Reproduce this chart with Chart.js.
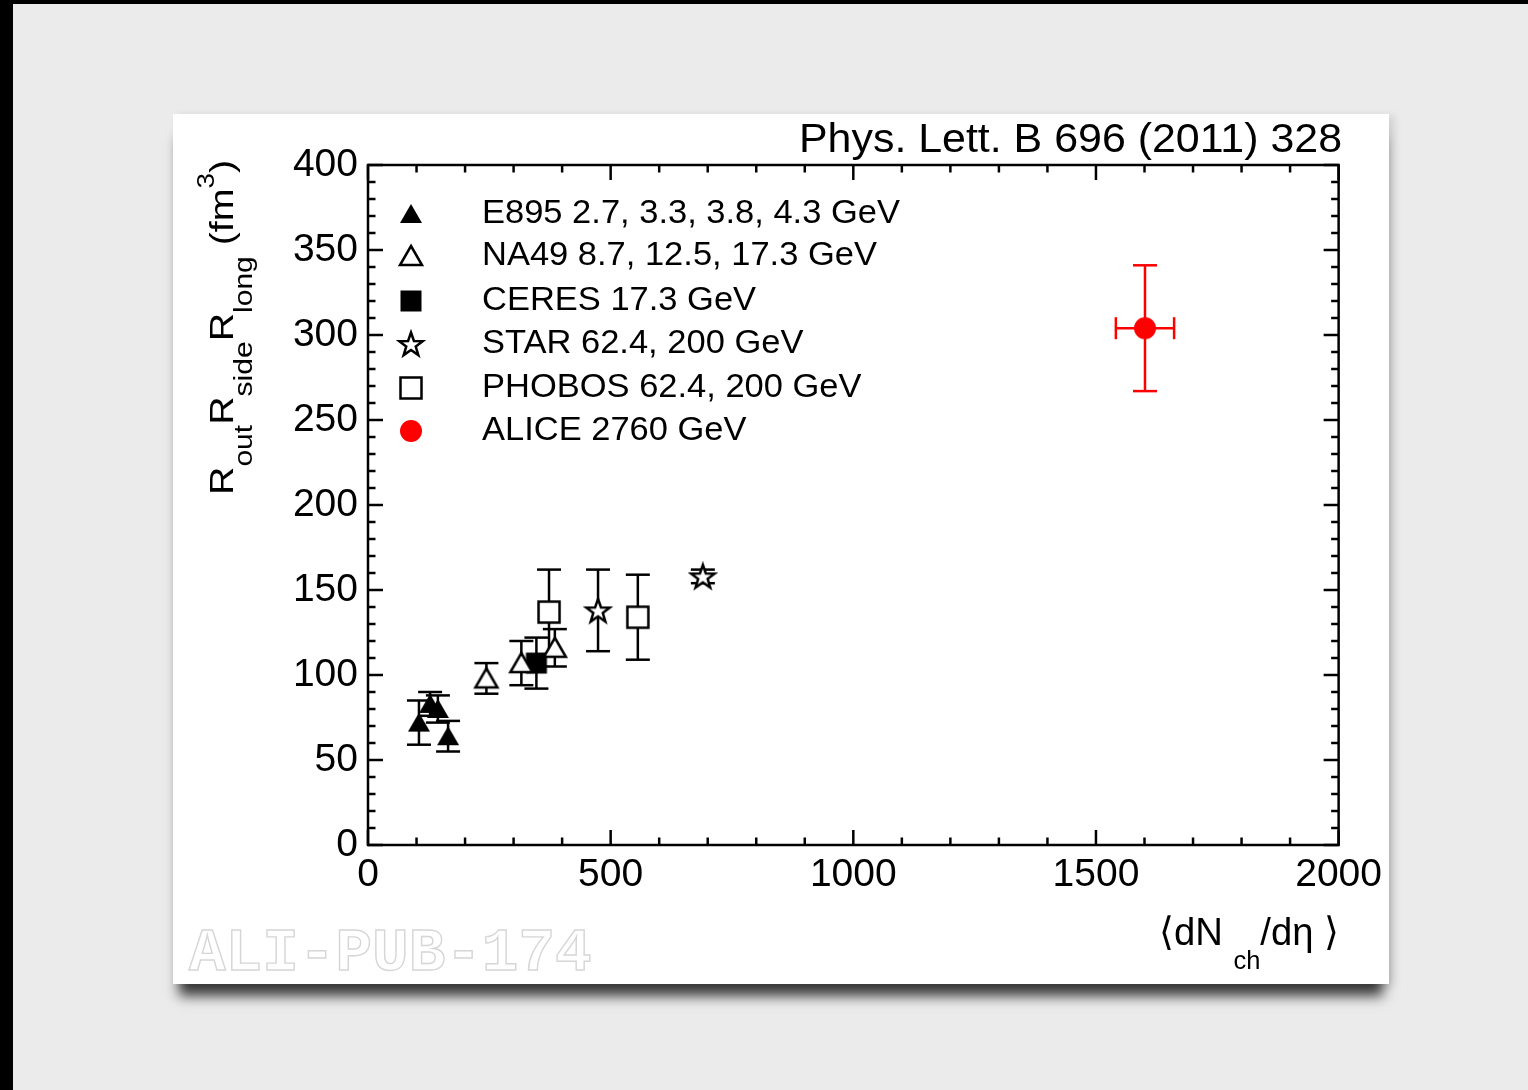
<!DOCTYPE html>
<html>
<head>
<meta charset="utf-8">
<script src="https://cdn.jsdelivr.net/npm/chart.js@4.4.1/dist/chart.umd.min.js"></script>
<style>
  html, body { margin: 0; padding: 0; background: #000; width: 1528px; height: 1090px; overflow: hidden; }
  #paper { position: absolute; left: 13px; top: 4px; width: 1515px; height: 1086px; background: #ebebeb; }
  #card { position: absolute; left: 160px; top: 110px; width: 1216px; height: 870px; background: #fff;
          box-shadow: 0 18px 12px -6px rgba(0,0,0,0.75), 5px 2px 8px rgba(0,0,0,0.12); }
  #card canvas { display: block; }
</style>
</head>
<body>
<div id="paper">
  <div id="card"><canvas id="hbtChart" width="1216" height="870"></canvas></div>
</div>
<script>
/***************************************************/
/********************** DATA ***********************/
/***************************************************/
// <dNch/deta> and Rout*Rside*Rlong (fm^3), errors
const e895X = [105, 128, 144, 165];
const e895Y = [72, 83, 80, 64];
const e895Err = [13, 7, 8, 9];

const na49X = [244, 316, 385];
const na49Y = [98, 107, 116];
const na49Err = [9, 13, 11];

const ceresX = [347];
const ceresY = [107];
const ceresErr = [15];

const starX = [474, 690];
const starY = [138, 158];
const starErr = [24, 4];

const phobosX = [373, 556];
const phobosY = [137, 134];
const phobosErr = [25, 25];

const aliceX = [1601];
const aliceY = [304];
const aliceErr = [37];
const aliceXErr = [60];

const xTicks = [0, 500, 1000, 1500, 2000];
const yTicks = [0, 50, 100, 150, 200, 250, 300, 350, 400];
const xMinorStep = 100;
const yMinorStep = 10;

const legendLabels = [
    'E895 2.7, 3.3, 3.8, 4.3 GeV',
    'NA49 8.7, 12.5, 17.3 GeV',
    'CERES 17.3 GeV',
    'STAR 62.4, 200 GeV',
    'PHOBOS 62.4, 200 GeV',
    'ALICE 2760 GeV'
];
const refText = 'Phys. Lett. B 696 (2011) 328';
const FONT = '"Liberation Sans", "DejaVu Sans", Arial, sans-serif';

/***************************************************/
/******************** MARKERS **********************/
/***************************************************/
function makeMarker(kind) {
    var c = document.createElement('canvas');
    c.width = 30; c.height = 30;
    var g = c.getContext('2d');
    g.lineWidth = 2.5;
    g.strokeStyle = '#000';
    g.fillStyle = '#000';
    g.beginPath();
    if (kind === 'triangle' || kind === 'openTriangle') {
        g.moveTo(15, 5); g.lineTo(26, 24); g.lineTo(4, 24); g.closePath();
    } else if (kind === 'square' || kind === 'openSquare') {
        g.rect(4.5, 4.5, 21, 21);
    } else if (kind === 'openStar') {
        for (var i = 0; i < 10; i++) {
            var r = i % 2 ? 5 : 12.5;
            var a = -Math.PI / 2 + i * Math.PI / 5;
            g.lineTo(15 + r * Math.cos(a), 16 + r * Math.sin(a));
        }
        g.closePath();
    } else if (kind === 'circle') {
        g.fillStyle = '#ff0000';
        g.arc(15, 15, 11, 0, 2 * Math.PI);
    }
    if (kind.indexOf('open') === 0) {
        g.fillStyle = '#fff';
        g.fill();
        g.stroke();
    } else {
        g.fill();
    }
    return c;
}

var markers = {
    triangle: makeMarker('triangle'),
    openTriangle: makeMarker('openTriangle'),
    square: makeMarker('square'),
    openStar: makeMarker('openStar'),
    openSquare: makeMarker('openSquare'),
    circle: makeMarker('circle')
};
var legendMarkers = ['triangle', 'openTriangle', 'square', 'openStar', 'openSquare', 'circle'];

function points(xs, ys) {
    return xs.map(function (x, i) { return { x: x, y: ys[i] }; });
}

var errorSets = [
    { x: e895X, y: e895Y, err: e895Err, color: '#000' },
    { x: na49X, y: na49Y, err: na49Err, color: '#000' },
    { x: ceresX, y: ceresY, err: ceresErr, color: '#000' },
    { x: starX, y: starY, err: starErr, color: '#000' },
    { x: phobosX, y: phobosY, err: phobosErr, color: '#000' },
    { x: aliceX, y: aliceY, err: aliceErr, xerr: aliceXErr, color: '#ff0000' }
];

/***************************************************/
/******************** PLUGINS **********************/
/***************************************************/
function line(ctx, x1, y1, x2, y2) {
    ctx.beginPath();
    ctx.moveTo(x1, y1);
    ctx.lineTo(x2, y2);
    ctx.stroke();
}

// text made of pieces (sub/superscripts); fit gives a target width or a stretch factor
function drawRuns(ctx, runs, x, y, fit, align) {
    var total = 0;
    runs.forEach(function (r) {
        ctx.font = r.size + 'px ' + FONT;
        total += ctx.measureText(r.text).width;
    });
    var k = 1;
    if (fit && fit.width) k = fit.width / total;
    if (fit && fit.stretch) k = fit.stretch;
    ctx.save();
    ctx.translate(align === 'right' ? x - total * k : x, y);
    ctx.scale(k, 1);
    var pos = 0;
    runs.forEach(function (r) {
        ctx.font = r.size + 'px ' + FONT;
        ctx.fillText(r.text, pos, r.dy || 0);
        pos += ctx.measureText(r.text).width;
    });
    ctx.restore();
}

const errorBarPlugin = {
    id: 'errorBars',
    beforeDatasetsDraw(chart) {
        var ctx = chart.ctx, xs = chart.scales.x, ys = chart.scales.y;
        ctx.save();
        ctx.lineWidth = 2.5;
        errorSets.forEach(function (set) {
            ctx.strokeStyle = set.color;
            set.x.forEach(function (xv, i) {
                var px = xs.getPixelForValue(xv);
                var py = ys.getPixelForValue(set.y[i]);
                var top = ys.getPixelForValue(set.y[i] + set.err[i]);
                var bot = ys.getPixelForValue(set.y[i] - set.err[i]);
                line(ctx, px, top, px, bot);
                line(ctx, px - 12, top, px + 12, top);
                line(ctx, px - 12, bot, px + 12, bot);
                if (set.xerr) {
                    var lft = xs.getPixelForValue(xv - set.xerr[i]);
                    var rgt = xs.getPixelForValue(xv + set.xerr[i]);
                    line(ctx, lft, py, rgt, py);
                    line(ctx, lft, py - 11, lft, py + 11);
                    line(ctx, rgt, py - 11, rgt, py + 11);
                }
            });
        });
        ctx.restore();
    }
};

const framePlugin = {
    id: 'frame',
    afterDatasetsDraw(chart) {
        var ctx = chart.ctx, a = chart.chartArea;
        var xs = chart.scales.x, ys = chart.scales.y;
        ctx.save();
        ctx.strokeStyle = '#000';
        ctx.lineWidth = 2.5;
        ctx.strokeRect(a.left, a.top, a.right - a.left, a.bottom - a.top);
        for (var v = xs.min; v <= xs.max; v += xMinorStep) {
            var px = xs.getPixelForValue(v);
            var len = xTicks.indexOf(v) >= 0 ? 15 : 7.5;
            line(ctx, px, a.bottom, px, a.bottom - len);
            line(ctx, px, a.top, px, a.top + len);
        }
        for (var w = ys.min; w <= ys.max; w += yMinorStep) {
            var py = ys.getPixelForValue(w);
            var l2 = yTicks.indexOf(w) >= 0 ? 15 : 7.5;
            line(ctx, a.left, py, a.left + l2, py);
            line(ctx, a.right, py, a.right - l2, py);
        }
        ctx.restore();
    }
};

const labelsPlugin = {
    id: 'labels',
    afterDraw(chart) {
        var ctx = chart.ctx;
        ctx.save();
        ctx.fillStyle = '#000';
        ctx.textBaseline = 'alphabetic';

        // reference on top right
        drawRuns(ctx, [{ text: refText, size: 41 }], 1169, 38, { width: 543 }, 'right');

        // legend inside the frame
        var baselines = [109, 151, 196, 239, 283, 326];
        legendLabels.forEach(function (lab, i) {
            var m = markers[legendMarkers[i]];
            ctx.drawImage(m, 238 - m.width / 2, baselines[i] - 9 - m.height / 2);
            drawRuns(ctx, [{ text: lab, size: 33 }], 309, baselines[i], { stretch: 1.045 });
        });

        // x axis title
        drawRuns(ctx, [
            { text: '\u27E8dN ', size: 39 },
            { text: 'ch', size: 26, dy: 24 },
            { text: '/d\u03B7 \u27E9', size: 39 }
        ], 1166, 831, { width: 180 }, 'right');

        // y axis title
        ctx.save();
        ctx.translate(60, 381);
        ctx.rotate(-Math.PI / 2);
        drawRuns(ctx, [
            { text: 'R', size: 34 },
            { text: 'out', size: 26, dy: 19 },
            { text: 'R', size: 34 },
            { text: 'side', size: 26, dy: 19 },
            { text: 'R', size: 34 },
            { text: 'long', size: 26, dy: 19 },
            { text: ' (fm', size: 34 },
            { text: '3', size: 24, dy: -19 },
            { text: ')', size: 34 }
        ], 0, 0, { width: 335 }, 'left');
        ctx.restore();

        // outlined watermark
        ctx.font = 'bold 61px "Liberation Mono", "Courier New", monospace';
        ctx.strokeStyle = '#d6d6d6';
        ctx.lineWidth = 1.4;
        ctx.strokeText('ALI-PUB-174', 16, 856);
        ctx.restore();
    }
};

/***************************************************/
/********************* CHART ***********************/
/***************************************************/
function drawHbtChart() {
    var canvas = document.getElementById('hbtChart').getContext('2d');
    var tickFont = { family: FONT, size: 39 };
    new Chart(canvas, {
        type: 'scatter',
        data: {
            datasets: [
                { label: legendLabels[0], data: points(e895X, e895Y), pointStyle: markers.triangle, pointRadius: 12 },
                { label: legendLabels[1], data: points(na49X, na49Y), pointStyle: markers.openTriangle, pointRadius: 12 },
                { label: legendLabels[2], data: points(ceresX, ceresY), pointStyle: markers.square, pointRadius: 12 },
                { label: legendLabels[3], data: points(starX, starY), pointStyle: markers.openStar, pointRadius: 12 },
                { label: legendLabels[4], data: points(phobosX, phobosY), pointStyle: markers.openSquare, pointRadius: 12 },
                { label: legendLabels[5], data: points(aliceX, aliceY), pointStyle: markers.circle, pointRadius: 12 }
            ]
        },
        options: {
            responsive: false,
            animation: false,
            devicePixelRatio: 1,
            layout: { padding: { top: 51, right: 49, left: 0, bottom: 0 } },
            plugins: {
                legend: { display: false },
                tooltip: { enabled: false }
            },
            scales: {
                x: {
                    type: 'linear',
                    min: 0,
                    max: 2000,
                    grid: { display: false, drawTicks: false },
                    border: { display: false },
                    ticks: {
                        stepSize: 500,
                        color: '#000',
                        font: tickFont,
                        padding: 7,
                        maxRotation: 0,
                        callback: function (value) { return String(value); }
                    },
                    afterFit: function (scale) { scale.height = 139; }
                },
                y: {
                    type: 'linear',
                    min: 0,
                    max: 400,
                    grid: { display: false, drawTicks: false },
                    border: { display: false },
                    ticks: {
                        stepSize: 50,
                        color: '#000',
                        font: tickFont,
                        padding: 10,
                        callback: function (value) { return String(value); }
                    },
                    afterFit: function (scale) { scale.width = 195; }
                }
            }
        },
        plugins: [errorBarPlugin, framePlugin, labelsPlugin]
    });
}

drawHbtChart();
</script>
</body>
</html>
